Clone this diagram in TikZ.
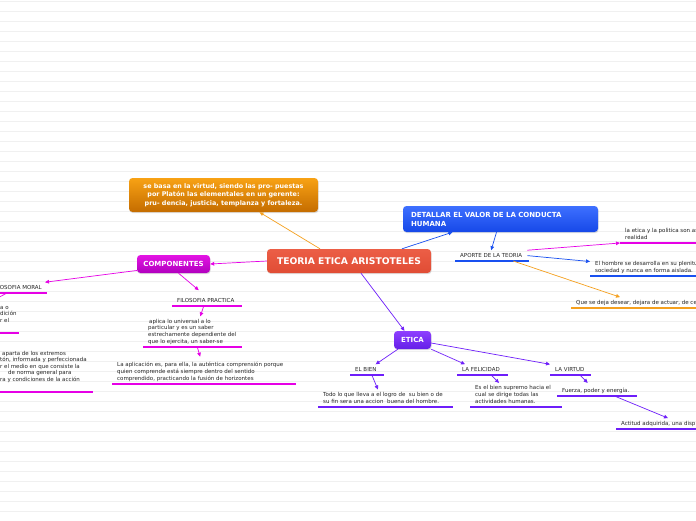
\documentclass[tikz,border=0pt]{standalone}
\usepackage{fontspec}
\setmainfont{DejaVu Sans}
\usetikzlibrary{arrows.meta,shadows}

\begin{document}
\begin{tikzpicture}[x=1pt, y=-1pt, font=\fontsize{5.5}{6.6}\selectfont]

	% Styles
	\tikzset{
		box/.style 2 args={
			rectangle, rounded corners=3.5pt,
			top color=#1, bottom color=#2,
			text=white, font=\fontsize{7}{9}\selectfont\bfseries,
			drop shadow={shadow xshift=0.6pt, shadow yshift=-1.2pt, opacity=0.25},
		},
		topic/.style={
			anchor=south west, align=left,
			inner xsep=5pt, inner ysep=2.5pt, text depth=1.3pt,
			text=black!85,
		},
		bar/.style={
			line width=2pt, draw=#1,
		},
		arrow/.style={
			line width=0.7pt, color=#1,
			-{Triangle[length=4pt,width=3.6pt]},
		}
	}

	% Colors
	\definecolor{lineorange}{RGB}{245,160,30}
	\definecolor{lineblue}{RGB}{25,80,240}
	\definecolor{linemag}{RGB}{230,0,230}
	\definecolor{linepurple}{RGB}{110,30,250}
	\definecolor{teoriatop}{RGB}{236,94,70}
	\definecolor{teoriabot}{RGB}{224,76,52}
	\definecolor{basatop}{RGB}{248,162,20}
	\definecolor{basabot}{RGB}{196,108,0}
	\definecolor{dettop}{RGB}{62,112,255}
	\definecolor{detbot}{RGB}{22,72,232}
	\definecolor{comptop}{RGB}{228,20,228}
	\definecolor{compbot}{RGB}{176,0,190}
	\definecolor{eticatop}{RGB}{142,64,255}
	\definecolor{eticabot}{RGB}{100,30,232}

	% Page with faint lines
	\useasboundingbox (0,0) rectangle (696,520);
	\clip (0,0) rectangle (696,520);
	\fill[white] (0,0) rectangle (696,520);
	\foreach \ly in {0,...,51}
		\draw[black!6, line width=1pt] (0,1.5+10*\ly) -- (696,1.5+10*\ly);

	% Central box
	\node[box={teoriatop}{teoriabot}, font=\fontsize{9.2}{11}\selectfont\bfseries, minimum width=164pt, minimum height=24pt] (teoria) at (349,261) {TEORIA ETICA ARISTOTELES};

	% Main branches
	\node[box={basatop}{basabot}, font=\fontsize{6.4}{8.5}\selectfont\bfseries, align=center, minimum width=189pt, minimum height=34pt] (virtudbox) at (223.5,195) {se basa en la virtud, siendo las pro- puestas\\por Platón las elementales en un gerente:\\pru- dencia, justicia, templanza y fortaleza.};
	\node[box={dettop}{detbot}, align=left, text width=179pt, inner xsep=8pt, minimum height=26pt] (detallar) at (500.5,219) {DETALLAR EL VALOR DE LA CONDUCTA\\HUMANA};
	\node[box={comptop}{compbot}, minimum width=73pt, minimum height=18pt] (componentes) at (173.5,264) {COMPONENTES};
	\node[box={eticatop}{eticabot}, minimum width=37pt, minimum height=18pt] (etica) at (412.5,340) {ETICA};

	% Componentes (left)
	\node[topic] (fmoral) at (-13,293) {FILOSOFIA MORAL};
	\node[topic] (fmoral1) at (-5,333) {a o\\dición\\r el\\ \mbox{}};
	\node[topic] (fmoral2) at (-5,392) {\hspace*{2pt}aparta de los extremos\\tón, informada y perfeccionada\\r el medio en que consiste la\\\hspace*{8pt}de norma general para\\ra y condiciones de la acción\\ \mbox{}};
	\node[topic] (fprac) at (172,306) {FILOSOFIA PRACTICA};
	\node[topic] (fprac1) at (143,347) {\hspace*{1pt}aplica lo universal a lo\\particular y es un saber\\estrechamente dependiente del\\que lo ejercita, un saber-se};
	\node[topic] (fprac2) at (112,384) {La aplicación es, para ella, la auténtica comprensión porque\\quien comprende está siempre dentro del sentido\\comprendido, practicando la fusión de horizontes};
	\coordinate (fmoralnext) at (-10,302);

	% Aporte (right)
	\node[topic] (aporte) at (455,261) {APORTE DE LA TEORIA};
	\node[topic] (aporte1) at (620,243) {la etica y la politica son as\\realidad};
	\node[topic] (aporte2) at (590,276) {El hombre se desarrolla en su plenitu\\sociedad y nunca en forma aislada.};
	\node[topic] (aporte3) at (571,308) {Que se deja desear, dejara de actuar, de cel};

	% Etica (bottom)
	\node[topic] (bien) at (350,375) {EL BIEN};
	\node[topic] (bien1) at (318,407) {Todo lo que lleva a el logro de\ \ su bien o de\\su fin sera una accion\ \ buena del hombre.};
	\node[topic] (felicidad) at (457,375) {LA FELICIDAD};
	\node[topic] (felicidad1) at (470,407) {Es el bien supremo hacia el\\cual se dirige todas las\\actividades humanas.};
	\node[topic] (virtud) at (550,375) {LA VIRTUD};
	\node[topic] (virtud1) at (557,396) {Fuerza, poder y energía.};
	\node[topic] (virtud2) at (616,429) {Actitud adquirida, una disp};

	% Underlines
	\draw[bar=linemag] (fmoral.south west) -- ++(60,0);
	\draw[bar=linemag] (fmoral1.south west) -- ++(24,0);
	\draw[bar=linemag] (fmoral2.south west) -- ++(98,0);
	\draw[bar=linemag] (fprac.south west) -- ++(70,0);
	\draw[bar=linemag] (fprac1.south west) -- ++(99,0);
	\draw[bar=linemag] (fprac2.south west) -- ++(184,0);
	\draw[bar=lineblue] (aporte.south west) -- ++(74,0);
	\draw[bar=linemag] (aporte1.south west) -- ++(90,0);
	\draw[bar=lineblue] (aporte2.south west) -- ++(110,0);
	\draw[bar=lineorange] (aporte3.south west) -- ++(130,0);
	\draw[bar=linepurple] (bien.south west) -- ++(34,0);
	\draw[bar=linepurple] (bien1.south west) -- ++(135,0);
	\draw[bar=linepurple] (felicidad.south west) -- ++(51,0);
	\draw[bar=linepurple] (felicidad1.south west) -- ++(92,0);
	\draw[bar=linepurple] (virtud.south west) -- ++(41,0);
	\draw[bar=linepurple] (virtud1.south west) -- ++(80,0);
	\draw[bar=linepurple] (virtud2.south west) -- ++(90,0);

	% Arrows from the central box
	\draw[arrow=lineorange] ([xshift=-29pt]teoria.north) -- ([xshift=36pt]virtudbox.south);
	\draw[arrow=lineblue] ([xshift=53pt]teoria.north) -- ([xshift=-48pt]detallar.south);
	\draw[arrow=linemag] (teoria.west) -- (componentes.east);
	\draw[arrow=linepurple] ([xshift=12pt]teoria.south) -- ([xshift=-8pt]etica.north);

	% Arrows, componentes
	\draw[arrow=linemag] (componentes.190) -- ([xshift=-2pt]fmoral.north east);
	\draw[arrow=linemag] ([xshift=-10pt]fmoral.south) -- (fmoralnext);
	\draw[arrow=linemag] ([xshift=5pt]componentes.south) -- ([xshift=-7pt,yshift=5pt]fprac.north);
	\draw[arrow=linemag] ([xshift=-2pt]fprac.south) -- ([xshift=8pt]fprac1.north);
	\draw[arrow=linemag] ([xshift=5pt]fprac1.south) -- ([yshift=3pt]fprac2.north);

	% Arrows, aporte
	\draw[arrow=lineblue] ([xshift=-4pt]detallar.south) -- (aporte.north);
	\draw[arrow=linemag] (aporte.north east) -- (aporte1.south west);
	\draw[arrow=lineblue] (aporte.east) -- ([yshift=-3pt]aporte2.north west);
	\draw[arrow=lineorange] ([xshift=22pt]aporte.south) -- ([xshift=49pt]aporte3.north west);

	% Arrows, etica
	\draw[arrow=linepurple] ([xshift=4pt]etica.south west) -- ([xshift=-6pt]bien.north east);
	\draw[arrow=linepurple] ([xshift=6pt]bien.south) -- ([xshift=-5pt]bien1.north);
	\draw[arrow=linepurple] (etica.south east) -- ([xshift=8pt]felicidad.north west);
	\draw[arrow=linepurple] ([xshift=10pt]felicidad.south) -- ([xshift=-14pt]felicidad1.north);
	\draw[arrow=linepurple] ([yshift=-3pt]etica.east) -- (virtud.north west);
	\draw[arrow=linepurple] ([xshift=10pt]virtud.south) -- ([xshift=-8pt,yshift=2pt]virtud1.north);
	\draw[arrow=linepurple] ([xshift=-20pt]virtud1.south east) -- ([xshift=52pt]virtud2.north west);

\end{tikzpicture}
\end{document}
